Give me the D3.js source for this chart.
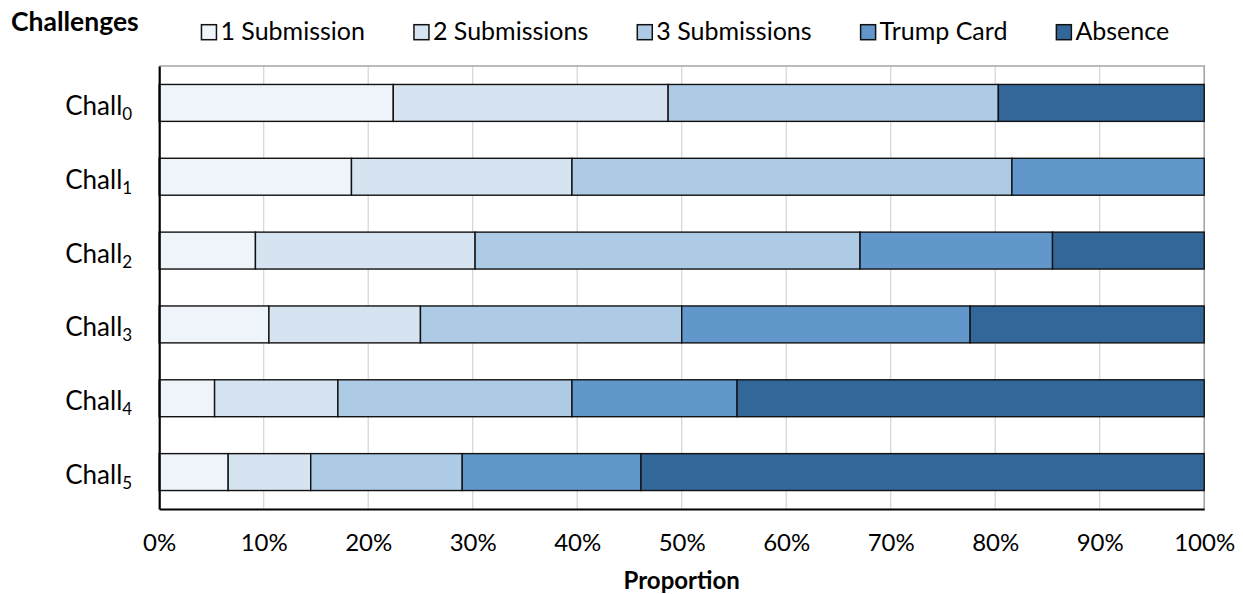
<!DOCTYPE html>
<html>
<head>
<meta charset="utf-8">
<script src="https://cdn.jsdelivr.net/npm/d3@7"></script>
<style>
  html, body { margin: 0; padding: 0; background: #ffffff; }
  svg { display: block; font-family: Lato, "Open Sans", sans-serif; }
</style>
</head>
<body>
<svg id="chart" width="1243" height="594"></svg>
<script>
// ---- Data (percent of participants) ----
const categories = ["Chall0", "Chall1", "Chall2", "Chall3", "Chall4", "Chall5"];
const seriesNames = ["1 Submission", "2 Submissions", "3 Submissions", "Trump Card", "Absence"];
const oneSubmission    = [22.4, 18.4,  9.2, 10.5,  5.3,  6.6];
const twoSubmissions   = [26.3, 21.1, 21.0, 14.5, 11.8,  7.9];
const threeSubmissions = [31.6, 42.1, 36.8, 25.0, 22.4, 14.5];
const trumpCard        = [ 0.0, 18.4, 18.4, 27.6, 15.8, 17.1];
const absence          = [19.7,  0.0, 14.5, 22.4, 44.7, 53.9];
const xTickValues = [0, 0.1, 0.2, 0.3, 0.4, 0.5, 0.6, 0.7, 0.8, 0.9, 1.0];
const xAxisTitle = "Proportion";
const yAxisTitle = "Challenges";
const seriesColors = ["#EEF4F9", "#D6E3F0", "#AECBE6", "#6197CB", "#336799"];

// ---- Build table ----
const seriesValues = [oneSubmission, twoSubmissions, threeSubmissions, trumpCard, absence];
const table = categories.map((c, i) => {
  const row = { category: c };
  seriesNames.forEach((s, j) => { row[s] = seriesValues[j][i]; });
  return row;
});
const stacked = d3.stack().keys(seriesNames).offset(d3.stackOffsetExpand)(table);

// ---- Layout ----
const svg = d3.select("#chart");
const plot = { left: 159.2, right: 1204.2, top: 66, bottom: 509 };

const x = d3.scaleLinear().domain([0, 1]).range([plot.left, plot.right]);
const y = d3.scaleBand().domain(categories).range([plot.top, plot.bottom])
  .paddingInner(0.5).paddingOuter(0.25);
const color = d3.scaleOrdinal().domain(seriesNames).range(seriesColors);

// Gridlines
svg.append("g").selectAll("line").data(xTickValues.slice(1, -1)).join("line")
  .attr("x1", d => x(d)).attr("x2", d => x(d))
  .attr("y1", plot.top).attr("y2", plot.bottom)
  .attr("stroke", "#D4D4D4").attr("stroke-width", 1.2);

// Plot area top/right border (gray)
svg.append("path")
  .attr("d", `M${plot.left},${plot.top}H${plot.right}V${plot.bottom}`)
  .attr("fill", "none").attr("stroke", "#A5A5A5").attr("stroke-width", 1.6);

// Bars
svg.append("g").selectAll("g").data(stacked).join("g")
  .attr("fill", d => color(d.key))
  .selectAll("rect").data(d => d.filter(s => s[1] - s[0] > 0)).join("rect")
  .attr("x", d => x(d[0]))
  .attr("width", d => x(d[1]) - x(d[0]))
  .attr("y", d => y(d.data.category))
  .attr("height", y.bandwidth())
  .attr("stroke", "#111111").attr("stroke-width", 1.4);

// X axis (bottom, black)
const xAxis = d3.axisBottom(x).tickValues(xTickValues).tickFormat(d3.format(".0%")).tickSize(0).tickPadding(0);
const gx = svg.append("g").attr("transform", `translate(0,${plot.bottom})`).call(xAxis);
gx.select(".domain").attr("stroke", "#000").attr("stroke-width", 2.2);
gx.selectAll(".tick text")
  .attr("font-family", "Lato, 'Open Sans', sans-serif")
  .attr("font-size", 24).attr("fill", "#000")
  .attr("dy", null).attr("y", 42);

// Y axis (left, black line only)
const yAxis = d3.axisLeft(y).tickSize(0).tickFormat("");
const gy = svg.append("g").attr("transform", `translate(${plot.left},0)`).call(yAxis);
gy.select(".domain").attr("stroke", "#000").attr("stroke-width", 2.2);
gy.selectAll(".tick text").remove();

// Category labels with subscript
const catLabels = svg.append("g").selectAll("text").data(categories).join("text")
  .attr("x", plot.left - 27)
  .attr("y", d => y(d) + y.bandwidth() / 2 + 12)
  .attr("text-anchor", "end")
  .attr("font-size", 26).attr("fill", "#000");
catLabels.append("tspan").text(d => d.replace(/\d+$/, ""));
catLabels.append("tspan").attr("font-size", 17).attr("dy", 5).text(d => d.match(/\d+$/)[0]);

// Axis titles
svg.append("text").attr("x", (plot.left + plot.right) / 2).attr("y", 589)
  .attr("text-anchor", "middle").attr("font-weight", "bold").attr("font-size", 24)
  .attr("fill", "#000").text(xAxisTitle);
svg.append("text").attr("x", 11).attr("y", 31)
  .attr("font-weight", "bold").attr("font-size", 26.5)
  .attr("fill", "#000").text(yAxisTitle);

// Legend (sequential layout, centred over plot)
const legend = svg.append("g");
const sq = 15, gapText = 4, gapItem = 49;
let cursor = 0;
seriesNames.forEach((s, i) => {
  const g = legend.append("g").attr("transform", `translate(${cursor},0)`);
  g.append("rect").attr("x", 0).attr("y", 24.7).attr("width", sq).attr("height", sq)
    .attr("fill", color(s)).attr("stroke", "#111").attr("stroke-width", 1.5);
  const t = g.append("text").attr("x", sq + gapText).attr("y", 39.5)
    .attr("font-size", 25).attr("fill", "#000").text(s);
  cursor += sq + gapText + t.node().getComputedTextLength() + gapItem;
});
const legendWidth = cursor - gapItem;
legend.attr("transform", `translate(${685.3 - legendWidth / 2},0)`);
</script>
</body>
</html>
